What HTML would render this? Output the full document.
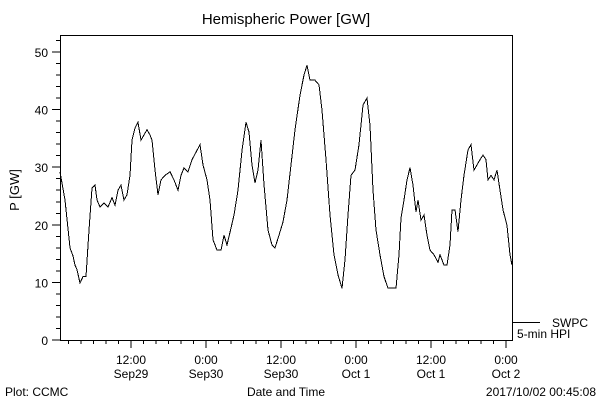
<!DOCTYPE html>
<html><head><meta charset="utf-8"><style>
body{margin:0;background:#fff}
svg{display:block;font-family:"Liberation Sans",sans-serif}
</style></head><body>
<svg id="chart" width="600" height="400" viewBox="0 0 600 400">
<text x="286" y="24" font-size="15" text-anchor="middle">Hemispheric Power [GW]</text>
<text transform="translate(19,190) rotate(-90)" font-size="13" text-anchor="middle">P [GW]</text>
<text x="5" y="396" font-size="12">Plot: CCMC</text>
<text x="286" y="396" font-size="12" text-anchor="middle">Date and Time</text>
<text x="596" y="396" font-size="12" text-anchor="end">2017/10/02 00:45:08</text>
<rect x="60.5" y="35.5" width="452" height="305" fill="none" stroke="#000" stroke-width="1" shape-rendering="crispEdges"/>
<g id="axes" shape-rendering="crispEdges"></g>
<path id="series" fill="none" stroke="#000" stroke-width="1" shape-rendering="crispEdges"/>
<line x1="513" y1="322.5" x2="540" y2="322.5" stroke="#000" shape-rendering="crispEdges"/>
<text x="552" y="327" font-size="12">SWPC</text>
<text x="517" y="338" font-size="12">5-min HPI</text>
</svg>
<script>
const hours=[0.64,1.44,2.24,2.72,3.04,3.36,3.84,4.32,4.8,5.28,5.76,6.24,6.56,7.04,7.68,8.32,8.96,9.44,9.92,10.4,10.88,11.36,11.84,12.16,12.64,13.12,13.6,14.08,14.56,15.04,15.36,15.84,16.32,16.8,17.44,18.24,18.88,19.52,20.0,20.48,21.12,21.76,22.4,23.04,23.52,24.16,24.64,25.12,25.76,26.4,26.88,27.36,27.84,28.48,29.12,29.76,30.4,30.88,31.36,31.84,32.32,32.8,33.28,33.92,34.56,35.04,35.68,36.32,36.96,37.6,38.24,39.04,39.68,40.16,40.64,41.44,42.08,42.56,43.2,43.84,44.48,45.12,45.76,46.24,46.72,47.2,47.84,48.48,49.12,49.76,50.24,50.72,51.2,51.84,52.48,53.12,54.4,54.88,55.2,55.68,56.16,56.64,57.12,57.6,57.92,58.4,58.88,59.36,59.84,60.48,61.12,61.44,62.08,62.56,63.04,63.36,63.84,64.32,64.8,65.28,65.92,66.4,66.88,67.36,67.84,68.32,68.8,69.12,69.6,70.08,70.56,71.04,71.52,72.16,72.64,72.96];
const power=[29.2,24.3,16.0,14.6,13.0,12.2,9.9,11.0,11.0,19.1,26.4,26.9,24.3,23.1,23.8,23.1,24.7,23.4,26.0,26.9,24.3,25.2,28.6,34.7,36.8,37.8,34.7,35.6,36.5,35.6,34.7,29.5,25.2,27.8,28.6,29.2,27.8,26.0,28.6,29.9,29.2,31.3,32.6,33.9,30.4,27.8,24.3,17.4,15.6,15.6,18.2,16.5,18.7,21.7,26.0,32.9,37.8,36.1,30.4,27.3,29.5,34.7,27.0,19.1,16.5,16.0,18.2,20.5,24.3,30.4,36.5,42.5,46.0,47.7,45.1,45.1,44.3,39.9,31.3,21.7,14.8,11.3,9.0,13.9,21.7,28.6,29.5,33.9,40.8,42.0,37.3,26.0,19.1,14.8,11.0,9.0,9.0,14.8,21.2,24.3,27.8,29.9,26.9,22.2,24.3,20.8,21.7,18.2,15.6,14.8,13.5,14.8,13.0,13.0,16.5,22.6,22.6,18.8,24.3,28.6,33.0,33.9,29.5,30.4,31.3,32.1,31.3,27.8,28.6,27.8,29.5,26.0,22.6,19.9,14.8,13.0];
const yTicks=[0,10,20,30,40,50];
const xTickHours=[12,24,36,48,60,72];
const xTickTimes=["12:00","0:00","12:00","0:00","12:00","0:00"];
const xTickDates=["Sep29","Sep30","Sep30","Oct 1","Oct 1","Oct 2"];
const X=h=>60+(h-0.64)*6.25;
const Y=v=>340-v*5.76;
const NS="http://www.w3.org/2000/svg";
const axes=document.getElementById('axes');
function ln(x1,y1,x2,y2,name){const l=document.createElementNS(NS,'line');l.setAttribute('x1',x1);l.setAttribute('y1',y1);l.setAttribute('x2',x2);l.setAttribute('y2',y2);l.setAttribute('stroke','#000');


axes.appendChild(l);}
function tx(x,y,s,anchor,name){const t=document.createElementNS(NS,'text');t.setAttribute('x',x);t.setAttribute('y',y);t.setAttribute('font-size','12');t.setAttribute('text-anchor',anchor);t.textContent=s;


axes.appendChild(t);}
for(let v=0;v<=52;v+=2){const major=v%10===0;ln(major?52:56,Y(v),60,Y(v),major?'y-major-tick':'y-minor-tick');}
yTicks.forEach(v=>tx(48,Y(v)+5,String(v),'end','y-tick-label'));
for(let h=2;h<=72;h+=2){const major=h%12===0;ln(X(h),340,X(h),major?348:344,major?'x-major-tick':'x-minor-tick');}
xTickHours.forEach((h,i)=>{tx(X(h),364,xTickTimes[i],'middle','x-tick-time');tx(X(h),378,xTickDates[i],'middle','x-tick-date');});
document.getElementById('series').setAttribute('d',hours.map((h,i)=>(i?'L':'M')+X(h).toFixed(1)+','+Y(power[i]).toFixed(1)).join(''));
</script>
</body></html>
